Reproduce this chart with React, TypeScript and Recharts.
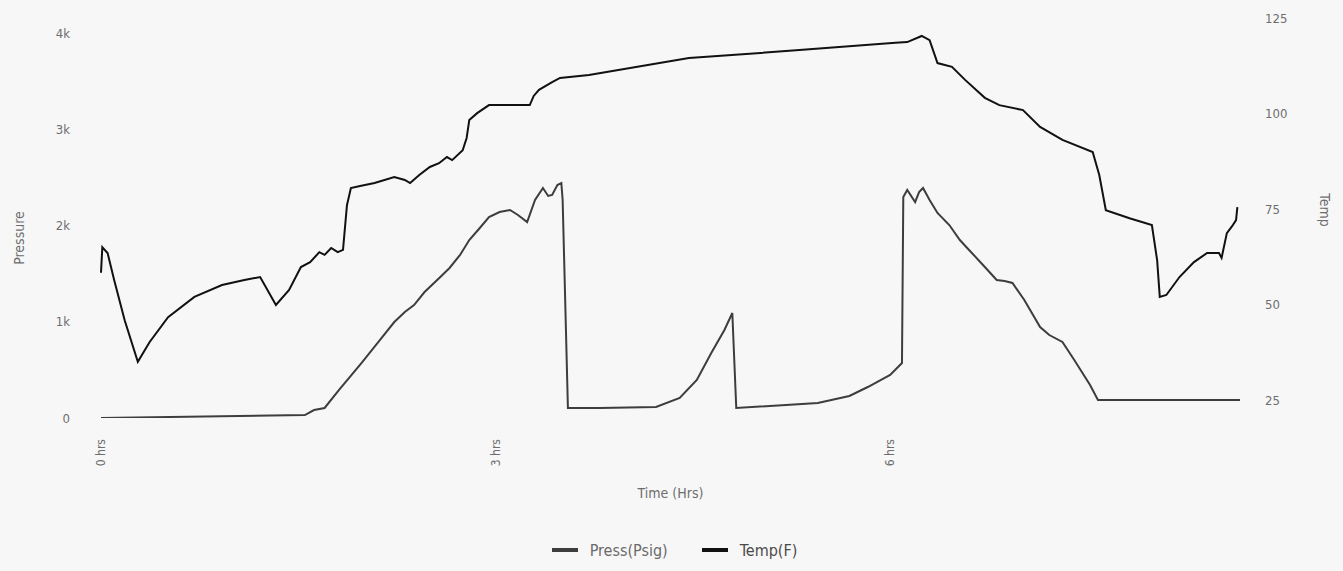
import { LineChart, Line, XAxis, YAxis, Legend } from "recharts";

// time in hours
const pressHours = [0, 1.55, 1.62, 1.7, 1.81, 1.98, 2.12, 2.23, 2.31, 2.38, 2.46, 2.58, 2.65, 2.73, 2.8, 2.88, 2.95, 3.03, 3.11, 3.17, 3.24, 3.3, 3.36, 3.4, 3.43, 3.47, 3.5, 3.51, 3.55, 3.79, 4.22, 4.4, 4.53, 4.64, 4.74, 4.8, 4.83, 5.45, 5.69, 5.83, 6.0, 6.09, 6.1, 6.13, 6.19, 6.22, 6.25, 6.3, 6.36, 6.45, 6.53, 6.6, 6.72, 6.81, 6.87, 6.93, 7.02, 7.14, 7.21, 7.31, 7.4, 7.52, 7.58, 8.66];
const pressValues = [0, 31, 83, 104, 291, 571, 810, 997, 1101, 1174, 1309, 1465, 1559, 1694, 1849, 1974, 2088, 2140, 2161, 2109, 2036, 2265, 2390, 2307, 2317, 2421, 2442, 2265, 104, 104, 114, 208, 395, 675, 914, 1091, 104, 156, 229, 322, 447, 571, 2296, 2369, 2244, 2348, 2390, 2265, 2130, 2005, 1849, 1746, 1569, 1434, 1423, 1403, 1226, 945, 862, 790, 603, 343, 187, 187];

const tempHours = [0, 0.01, 0.05, 0.1, 0.18, 0.28, 0.37, 0.51, 0.71, 0.92, 1.09, 1.21, 1.33, 1.43, 1.52, 1.59, 1.66, 1.7, 1.75, 1.8, 1.84, 1.87, 1.9, 1.97, 2.08, 2.23, 2.31, 2.35, 2.42, 2.5, 2.57, 2.63, 2.67, 2.75, 2.78, 2.8, 2.86, 2.95, 3.26, 3.29, 3.33, 3.43, 3.49, 3.71, 4.47, 5.31, 6.04, 6.13, 6.24, 6.3, 6.36, 6.47, 6.57, 6.72, 6.83, 7.01, 7.14, 7.31, 7.54, 7.59, 7.64, 7.82, 7.99, 8.03, 8.05, 8.1, 8.2, 8.31, 8.41, 8.5, 8.52, 8.56, 8.6, 8.63, 8.64];
const tempValues = [58.3, 65.0, 63.5, 56.4, 45.9, 35.0, 40.2, 46.7, 52.0, 55.1, 56.4, 57.2, 49.9, 53.8, 59.8, 61.1, 63.7, 63.0, 64.8, 63.7, 64.3, 76.0, 80.5, 81.0, 81.8, 83.4, 82.6, 81.8, 83.9, 86.0, 87.0, 88.6, 87.8, 90.4, 93.6, 98.3, 100.1, 102.2, 102.2, 104.6, 106.2, 108.2, 109.3, 110.1, 114.5, 116.6, 118.5, 118.7, 120.3, 119.2, 113.2, 112.2, 108.8, 104.1, 102.2, 100.9, 96.5, 93.1, 89.9, 83.9, 74.7, 72.6, 70.8, 61.6, 52.0, 52.5, 57.2, 61.1, 63.5, 63.5, 62.2, 68.7, 70.5, 72.1, 75.5];

const timeTicks = [0, 3, 6];
const pressTicks = [0, 1000, 2000, 3000, 4000];
const tempTicks = [25, 50, 75, 100, 125];

const pressData = pressHours.map((t, i) => ({ t, press: pressValues[i] }));
const tempData = tempHours.map((t, i) => ({ t, temp: tempValues[i] }));

const FONT = "'DejaVu Sans Condensed', 'Liberation Sans Narrow', 'DejaVu Sans', sans-serif";
const TEXT = "#6e6e6e";

function TimeTick(props: any) {
  const { x, y, payload } = props;
  return (
    <g transform={`translate(${x},${y})`}>
      <text transform="rotate(-90)" x={-13} y={0} textAnchor="end" dominantBaseline="central" fill={TEXT} fontSize={12} fontFamily={FONT}>
        {`${payload.value} hrs`}
      </text>
    </g>
  );
}

function SideTitle(props: any) {
  const { x, y, angle, text } = props;
  return (
    <text x={x} y={y} transform={`rotate(${angle}, ${x}, ${y})`} textAnchor="middle" dominantBaseline="central" fill={TEXT} fontSize={14} fontFamily={FONT}>
      {text}
    </text>
  );
}

function LegendBox(props: any) {
  const { payload } = props;
  return (
    <div style={{ height: 26, display: "flex", justifyContent: "center", alignItems: "center", paddingLeft: 40, fontFamily: FONT, fontSize: 16 }}>
      {(payload || []).map((p: any) => (
        <div key={p.value} style={{ display: "flex", alignItems: "center", marginRight: 34 }}>
          <span style={{ display: "inline-block", width: 26, height: 4, background: p.color, marginRight: 12 }} />
          <span style={{ color: p.color === "#111111" ? "#4a4a4a" : "#6a6a6a" }}>{p.value}</span>
        </div>
      ))}
    </div>
  );
}

export default function App() {
  return (
    <div style={{ position: "absolute", left: 0, top: 0, width: 1343, height: 571, background: "#f7f7f7" }}>
      <LineChart width={1343} height={571} margin={{ top: 18, right: 0, left: 0, bottom: 8 }}>
        <XAxis
          dataKey="t"
          type="number"
          domain={[0, 8.66]}
          ticks={timeTicks}
          allowDuplicatedCategory={false}
          axisLine={false}
          tickLine={false}
          height={119}
          tick={<TimeTick />}
          label={{
            content: (p: any) => (
              <text x={p.viewBox.x + p.viewBox.width / 2} y={p.viewBox.y + 75} textAnchor="middle" dominantBaseline="central" fill={TEXT} fontSize={14} fontFamily={FONT}>
                Time (Hrs)
              </text>
            ),
          }}
        />
        <YAxis
          yAxisId="p"
          orientation="left"
          width={101}
          domain={[0, 4156]}
          ticks={pressTicks}
          allowDataOverflow
          axisLine={false}
          tickLine={false}
          tickMargin={25}
          tick={{ fill: TEXT, fontSize: 13, fontFamily: FONT }}
          tickFormatter={(v: number) => (v === 0 ? "0" : `${v / 1000}k`)}
          label={{ content: (p: any) => <SideTitle x={19} y={p.viewBox.y + 220} angle={-90} text="Pressure" /> }}
        />
        <YAxis
          yAxisId="t"
          orientation="right"
          width={103}
          domain={[20.3, 125]}
          ticks={tempTicks}
          allowDataOverflow
          axisLine={false}
          tickLine={false}
          tickMargin={19}
          tick={{ fill: TEXT, fontSize: 13, fontFamily: FONT, textAnchor: "start" }}
          label={{ content: (p: any) => <SideTitle x={p.viewBox.x + 85} y={p.viewBox.y + 192} angle={90} text="Temp" /> }}
        />
        <Legend verticalAlign="bottom" content={<LegendBox />} />
        <Line
          yAxisId="p"
          data={pressData}
          dataKey="press"
          name="Press(Psig)"
          type="linear"
          stroke="#3d3d3d"
          strokeWidth={2}
          dot={false}
          isAnimationActive={false}
        />
        <Line
          yAxisId="t"
          data={tempData}
          dataKey="temp"
          name="Temp(F)"
          type="linear"
          stroke="#111111"
          strokeWidth={2}
          dot={false}
          isAnimationActive={false}
        />
      </LineChart>
    </div>
  );
}
